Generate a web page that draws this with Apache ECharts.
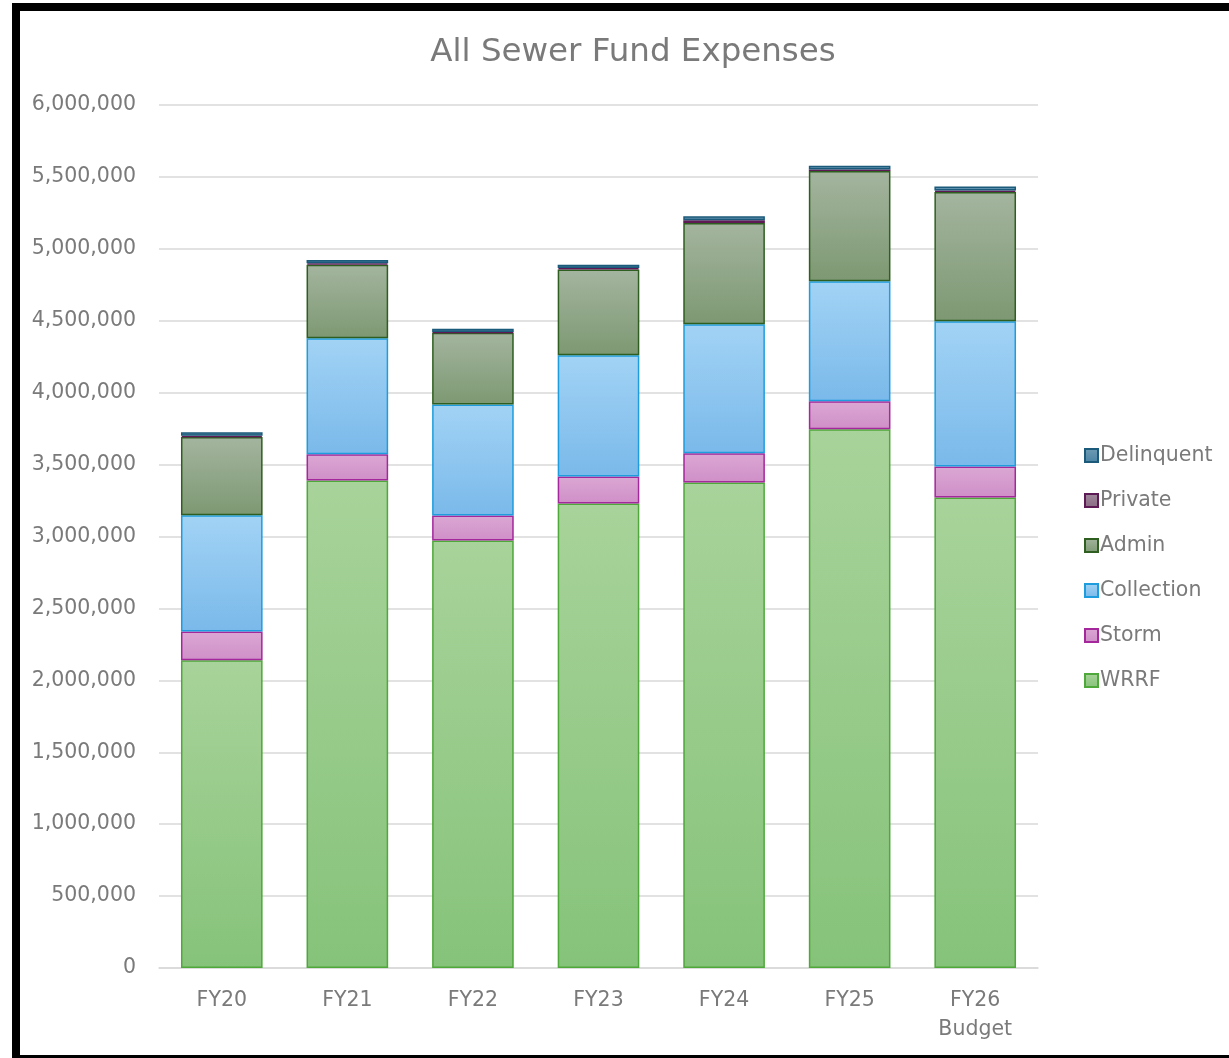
<!DOCTYPE html>
<html>
<head>
<meta charset="utf-8">
<script src="https://cdn.jsdelivr.net/npm/echarts@6/dist/echarts.min.js"></script>
<style>
  html, body { margin: 0; padding: 0; background: #fff; overflow: hidden; }
  .frame {
    position: absolute; left: 12px; top: 3px;
    width: 1260px; height: 1060px;
    border: 8px solid #000; box-sizing: border-box;
  }
  #chart { position: absolute; left: 0; top: 0; width: 1229px; height: 1058px; }
</style>
</head>
<body>
<div class="frame"></div>
<div id="chart"></div>
<script>
// years
const categories = ['FY20', 'FY21', 'FY22', 'FY23', 'FY24', 'FY25', 'FY26\nBudget'];

// expense pieces (dollars)
const wrrf       = [2140000, 3390000, 2972000, 3230000, 3376000, 3745000, 3271000];
const storm      = [200000, 181000, 174000, 188000, 202000, 195000, 216000];
const collection = [808000, 807000, 772000, 842000, 898000, 835000, 1009000];
const admin      = [543000, 512000, 498000, 596000, 704000, 766000, 900000];
const priv       = [10000, 10000, 6000, 10000, 18000, 11000, 9000];
const delinquent = [23000, 22000, 23000, 23000, 28000, 26000, 28000];

const yTicks = [0, 500000, 1000000, 1500000, 2000000, 2500000, 3000000, 3500000, 4000000, 4500000, 5000000, 5500000, 6000000];

const FONT = '"DejaVu Sans", sans-serif';
const TXT = '#7a7a7a';
const grad = (top, bottom) => new echarts.graphic.LinearGradient(0, 0, 0, 1, [
  { offset: 0, color: top }, { offset: 1, color: bottom }
]);

const mkSeries = (name, data, top, bottom, border) => ({
  name, type: 'bar', stack: 'all', data,
  barWidth: '65%',
  itemStyle: { color: grad(top, bottom), borderColor: border, borderWidth: 1.5 },
  emphasis: { disabled: true }
});

const chart = echarts.init(document.getElementById('chart'));
chart.setOption({
  animation: false,
  title: {
    text: 'All Sewer Fund Expenses', left: 628, top: 31, textAlign: 'center',
    textStyle: { fontFamily: FONT, fontSize: 32.5, fontWeight: 'normal', color: TXT }
  },
  legend: {
    orient: 'vertical', left: 1079, top: 440, itemGap: 24,
    itemWidth: 13, itemHeight: 13, icon: 'rect',
    data: ['Delinquent', 'Private', 'Admin', 'Collection', 'Storm', 'WRRF'],
    textStyle: { fontFamily: FONT, fontSize: 20.5, color: TXT, padding: [0, 0, 0, -3] }
  },
  grid: { left: 159, right: 191, top: 105, bottom: 90, containLabel: false },
  xAxis: {
    type: 'category', data: categories,
    axisTick: { show: false },
    axisLine: { lineStyle: { color: '#d9d9d9', width: 1.5 } },
    axisLabel: { fontFamily: FONT, fontSize: 20.5, color: TXT, margin: 18, lineHeight: 29 }
  },
  yAxis: {
    type: 'value', min: 0, max: 6000000, interval: 500000,
    axisLine: { show: false }, axisTick: { show: false },
    splitLine: { lineStyle: { color: '#d9d9d9', width: 1.5 } },
    axisLabel: {
      fontFamily: FONT, fontSize: 20.5, color: TXT, margin: 23,
      formatter: v => yTicks.includes(v) ? v.toLocaleString('en-US') : ''
    }
  },
  series: [
    mkSeries('WRRF', wrrf, '#a8d39a', '#86c37a', '#4ea83a'),
    mkSeries('Storm', storm, '#dba7d3', '#cf8fc8', '#a4279c'),
    mkSeries('Collection', collection, '#a2d3f5', '#7ab9ea', '#1d9ddd'),
    mkSeries('Admin', admin, '#a4b59f', '#7d9872', '#2f5f20'),
    mkSeries('Private', priv, '#a08a9c', '#8a6a85', '#5e1a54'),
    mkSeries('Delinquent', delinquent, '#6f9bb4', '#4a84a4', '#1b5a7a')
  ]
});
</script>
</body>
</html>
